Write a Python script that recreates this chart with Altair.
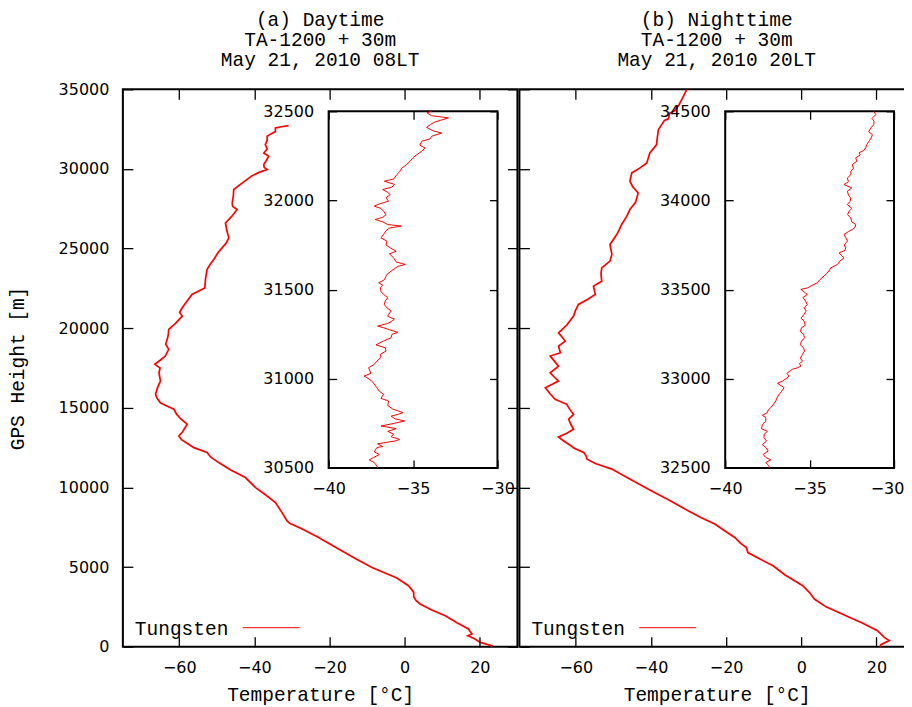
import altair as alt
import pandas as pd

# ---------------- data ----------------
day_height = [0, 60, 270, 500, 690, 800, 950, 1110, 1500, 1940, 2300, 2680, 2900, 3140, 3410, 3600,
              3830, 4310, 4600, 4970, 5500, 6130, 6860, 7400, 7750, 7900, 8400, 9050, 9600, 9990,
              10620, 11100, 11560, 11900, 12190, 12500, 12710, 13000, 13230, 13500, 13970, 14300,
              14600, 14910, 15150, 15320, 15600, 15850, 16250, 16680, 16950, 17200, 17500, 17730,
              18000, 18250, 18670, 19000, 19300, 19600, 19920, 20300, 20760, 21000, 21280, 21700,
              22120, 22530, 23100, 23680, 24000, 24310, 24700, 25040, 25350, 25670, 26100, 26610,
              27000, 27450, 27650, 27870, 28300, 28710, 29000, 29300, 29580, 29800, 29960, 30100,
              30280, 30500, 30800, 31000, 31250, 31530, 31800, 32050, 32200, 32350, 32570, 32650, 32720]
day_temp = [23.0, 23.2, 20.1, 18.6, 16.8, 17.9, 17.4, 17.0, 13.9, 10.8, 7.2, 4.1, 3.0, 2.4, 2.4, 1.8,
            1.0, -2.1, -4.9, -8.7, -12.9, -17.6, -22.9, -27.4, -30.6, -31.3, -32.6, -34.4, -37.4, -39.7,
            -42.4, -46.3, -49.5, -51.6, -52.6, -56.1, -57.5, -59.4, -60.1, -59.1, -57.9, -59.6,
            -60.7, -61.4, -63.6, -65.0, -65.9, -66.3, -65.8, -65.0, -65.2, -65.4, -65.1, -66.5,
            -65.0, -63.7, -62.8, -63.6, -63.2, -62.9, -62.8, -61.0, -59.2, -59.9, -59.2, -57.9,
            -56.6, -53.2, -53.0, -52.6, -51.8, -50.8, -49.8, -48.6, -47.5, -46.8, -47.3, -47.7,
            -46.1, -44.6, -45.8, -45.9, -45.6, -45.5, -43.9, -42.2, -40.6, -38.6, -36.6, -37.4,
            -37.5, -36.9, -36.2, -37.5, -36.6, -37.1, -36.6, -36.6, -35.6, -34.4, -34.4, -32.8, -30.9]

night_height = [0, 130, 380, 580, 1000, 1500, 1940, 2500, 2990, 3400, 3830, 4500, 5080, 5500, 5910,
                6230, 6500, 6860, 7300, 7700, 8100, 8530, 9200, 9780, 10500, 11150, 11500, 11770,
                12000, 12190, 12450, 12710, 12950, 13170, 13400, 13650, 13950, 14280, 14590, 14900,
                15220, 15540, 15900, 16260, 16680, 16950, 17200, 17620, 17900, 18250, 18460, 18880,
                19190, 19710, 20200, 20760, 21100, 21490, 21800, 22120, 22640, 22950, 23400, 23790,
                24210, 24630, 25260, 25880, 26200, 26510, 27000, 27450, 27900, 28490, 28900, 29230,
                29750, 30050, 30370, 31000, 31530, 32000, 32470, 32800, 33050, 33150, 33500, 33650,
                34000, 34450, 34980]
night_temp = [21.0, 21.2, 23.4, 22.1, 20.3, 16.1, 11.9, 6.6, 3.5, 2.2, 0.4, -4.3, -7.5, -11.0, -14.2,
              -14.6, -16.2, -17.7, -20.5, -23.0, -26.6, -30.1, -35.1, -39.8, -45.4, -50.4, -54.8, -57.0,
              -57.3, -57.9, -60.3, -61.9, -63.4, -64.6, -62.4, -60.6, -61.3, -61.9, -60.6, -61.6,
              -62.4, -65.5, -66.9, -68.1, -64.6, -65.8, -66.8, -64.6, -65.6, -66.8, -64.1, -64.6,
              -62.8, -64.6, -62.4, -60.6, -60.1, -59.3, -56.9, -54.8, -55.3, -53.1, -53.3, -53.1,
              -50.9, -50.4, -50.9, -49.1, -48.4, -47.8, -46.5, -45.6, -44.1, -43.4, -44.9, -45.6,
              -45.1, -43.0, -41.1, -40.3, -38.5, -38.3, -38.0, -37.1, -36.4, -35.4, -35.0, -33.7,
              -32.6, -31.6, -30.5]

day_zoom_height = [30500, 30511, 30530, 30545, 30558, 30575, 30590, 30614, 30620, 30635, 30651, 30660,
                   30675, 30689, 30705, 30720, 30735, 30750, 30763, 30775, 30790, 30801, 30810, 30830,
                   30850, 30875, 30890, 30913, 30930, 30950, 30970, 30987, 31006, 31015, 31030, 31062,
                   31080, 31099, 31120, 31137, 31155, 31174, 31190, 31211, 31230, 31249, 31260, 31275,
                   31286, 31295, 31310, 31323, 31335, 31350, 31361, 31380, 31398, 31415, 31436, 31455,
                   31473, 31490, 31510, 31525, 31538, 31555, 31585, 31610, 31630, 31641, 31655, 31678,
                   31700, 31715, 31734, 31750, 31772, 31790, 31809, 31830, 31845, 31856, 31865, 31880,
                   31893, 31905, 31920, 31940, 31955, 31968, 31980, 31996, 32015, 32033, 32045, 32061,
                   32075, 32090, 32108, 32120, 32145, 32160, 32182, 32200, 32220, 32240, 32257, 32275,
                   32294, 32310, 32332, 32345, 32360, 32378, 32390, 32410, 32425, 32440, 32463, 32475,
                   32491, 32500]
day_zoom_temp = [-37.1, -37.14, -37.3, -37.6, -37.34, -37.0, -37.3, -37.14, -36.8, -37.1, -36.06, -35.8,
                 -36.3, -36.15, -36.5, -36.0, -36.9, -36.1, -35.5, -36.06, -36.3, -35.86, -35.6, -36.2,
                 -36.5, -36.45, -36.9, -36.75, -37.0, -37.14, -37.3, -37.44, -37.73, -37.9, -37.5, -37.63,
                 -37.3, -37.14, -36.9, -36.94, -36.6, -36.65, -37.2, -36.75, -36.3, -36.25, -35.9, -36.4,
                 -36.75, -37.1, -36.5, -36.25, -36.1, -36.5, -36.45, -36.3, -36.55, -36.7, -36.65, -36.5,
                 -36.75, -36.9, -36.94, -36.8, -37.04, -36.7, -36.55, -36.2, -35.9, -35.46, -36.0, -36.15,
                 -36.4, -36.0, -36.35, -36.6, -36.55, -36.9, -36.75, -36.6, -36.4, -35.7, -36.5, -36.8,
                 -37.24, -36.8, -36.6, -36.75, -36.9, -37.3, -37.0, -36.45, -36.6, -36.35, -36.5, -36.8,
                 -36.25, -36.1, -36.7, -36.15, -35.96, -35.8, -35.66, -35.4, -35.17, -35.0, -34.77, -34.5,
                 -34.28, -34.6, -34.48, -34.0, -33.89, -33.3, -33.8, -34.2, -33.98, -33.7, -32.9, -33.9,
                 -34.18, -33.9]

night_zoom_height = [32500, 32511, 32530, 32545, 32558, 32575, 32595, 32614, 32630, 32650, 32670, 32689,
                     32705, 32720, 32745, 32760, 32782, 32795, 32810, 32825, 32838, 32855, 32875, 32890,
                     32913, 32930, 32950, 32965, 32975, 32987, 33000, 33015, 33030, 33053, 33062, 33071,
                     33085, 33099, 33115, 33137, 33155, 33174, 33190, 33211, 33230, 33249, 33265, 33286,
                     33300, 33323, 33340, 33361, 33380, 33398, 33415, 33436, 33455, 33473, 33485, 33501,
                     33510, 33520, 33538, 33555, 33576, 33590, 33604, 33622, 33641, 33660, 33678, 33690,
                     33706, 33720, 33734, 33750, 33772, 33790, 33809, 33825, 33837, 33850, 33865, 33880,
                     33902, 33920, 33940, 33955, 33977, 33995, 34014, 34030, 34052, 34070, 34089, 34105,
                     34126, 34145, 34164, 34180, 34201, 34220, 34239, 34255, 34267, 34280, 34294, 34315,
                     34332, 34350, 34369, 34385, 34406, 34425, 34444, 34460, 34481, 34500]
night_zoom_temp = [-37.4, -37.4, -37.6, -37.3, -37.59, -37.75, -37.45, -37.59, -37.8, -37.55, -37.7, -37.69,
                   -37.5, -37.85, -37.79, -37.6, -37.59, -37.8, -37.5, -37.45, -37.3, -37.15, -37.0, -36.95,
                   -36.8, -36.65, -36.51, -36.75, -36.9, -36.61, -36.4, -36.21, -36.35, -36.02, -35.7, -35.52,
                   -35.6, -35.42, -35.55, -35.42, -35.3, -35.36, -35.55, -35.48, -35.3, -35.36, -35.55, -35.48,
                   -35.25, -35.33, -35.5, -35.33, -35.2, -35.33, -35.15, -35.23, -35.4, -35.13, -35.3, -35.52,
                   -35.1, -34.93, -34.54, -34.4, -34.14, -34.0, -33.85, -33.75, -33.35, -33.2, -32.96, -33.1,
                   -33.25, -32.9, -32.86, -32.95, -32.76, -32.85, -32.96, -32.7, -32.47, -32.3, -32.27, -32.5,
                   -32.56, -32.75, -32.66, -32.5, -32.76, -32.6, -32.56, -32.7, -32.76, -32.5, -32.96, -32.7,
                   -32.76, -32.55, -32.56, -32.4, -32.47, -32.2, -32.27, -32.0, -32.07, -31.8, -31.68, -31.6,
                   -31.48, -31.35, -31.28, -31.5, -31.38, -31.2, -31.18, -31.3, -31.08, -31.2]

day_title = ["(a) Daytime", "TA-1200 + 30m", "May 21, 2010 08LT"]
night_title = ["(b) Nighttime", "TA-1200 + 30m", "May 21, 2010 20LT"]
legend_label = ["Tungsten"]
x_title = "Temperature [°C]"
y_title = "GPS Height [m]"

main_x_domain = [-75, 30]
main_y_domain = [0, 35000]
main_x_ticks = [-60, -40, -20, 0, 20]
main_y_ticks = [0, 5000, 10000, 15000, 20000, 25000, 30000, 35000]
zoom_x_domain = [-40, -30]
zoom_x_ticks = [-40, -35, -30]
day_zoom_y_domain = [30500, 32500]
day_zoom_y_ticks = [30500, 31000, 31500, 32000, 32500]
night_zoom_y_domain = [32500, 34500]
night_zoom_y_ticks = [32500, 33000, 33500, 34000, 34500]

# ---------------- layout / style ----------------
W, H = 395, 558
TK = 10          # main tick length (inward)
ITK = 8          # inset tick length (inward)
IN_L, IN_R, IN_T, IN_B = 206, 375, 22, 379   # inset rectangle inside a panel (px)
MONO = "Liberation Mono"
SANS = "DejaVu Sans"
TXT = 19.5
LBL = 16


def ax(orient, values, offset, tick, labels=True, pad=13, **kw):
    return alt.Axis(orient=orient, values=values, offset=offset, tickSize=tick, domain=False,
                    grid=False, labels=labels, ticks=True, tickColor="black", tickWidth=1.3,
                    labelFont=SANS, labelFontSize=LBL, labelColor="black", labelPadding=pad,
                    labelFlush=False, labelOverlap=False, format="d", minExtent=0, zindex=1, **kw)


def panel(main_h, main_t, zoom_h, zoom_t, zoom_ydom, zoom_yticks, title_lines, first):
    mdf = pd.DataFrame({"h": main_h, "t": main_t})
    zdf = pd.DataFrame({"h": zoom_h, "t": zoom_t})
    fdf = pd.DataFrame({"x": [zoom_x_domain[0]], "x2": [zoom_x_domain[1]],
                        "y": [zoom_ydom[0]], "y2": [zoom_ydom[1]]})
    ldf = pd.DataFrame({"label": legend_label})
    tdf = pd.DataFrame({"title": ["\n".join(title_lines)]})

    xs = alt.Scale(domain=main_x_domain, nice=False, zero=False)
    ys = alt.Scale(domain=main_y_domain, nice=False, zero=False)
    ixs = alt.Scale(domain=zoom_x_domain, range=[IN_L, IN_R], nice=False, zero=False)
    iys = alt.Scale(domain=zoom_ydom, range=[IN_B, IN_T], nice=False, zero=False)

    bottom_axis = ax("bottom", main_x_ticks, -TK, TK, pad=13, title=x_title, titleFont=MONO,
                     titleFontSize=TXT, titleFontWeight="normal", titleColor="black",
                     titleBaseline="alphabetic", titleY=64)
    if first:
        left_axis = ax("left", main_y_ticks, -TK, TK, pad=14, title=y_title, titleFont=MONO,
                       titleFontSize=TXT, titleFontWeight="normal", titleColor="black",
                       titleBaseline="alphabetic", titleAngle=270, titleAlign="center",
                       titleX=-109, titleY=H / 2)
        inset_x_axis = ax("bottom", zoom_x_ticks, -(H - IN_B + ITK), ITK, pad=13, title=None)
    else:
        left_axis = ax("left", main_y_ticks, -TK, TK, labels=False, title=None)
        # the right-most inset label sits at the page edge: nudge it inside the picture
        inset_x_axis = ax("bottom", zoom_x_ticks, -(H - IN_B + ITK), ITK, pad=13, title=None,
                          labelOffset={"condition": {"test": "datum.value == -30", "value": -7},
                                       "value": 0})

    line = alt.Chart(mdf).mark_line(color="#ff0000", strokeWidth=1.7).encode(
        x=alt.X("t:Q", scale=xs, axis=bottom_axis),
        y=alt.Y("h:Q", scale=ys, axis=left_axis),
        order=alt.Order("h:Q"),
    )
    mirror = alt.Chart(mdf).mark_line(strokeOpacity=0).encode(
        x=alt.X("t:Q", scale=xs, axis=ax("top", main_x_ticks, -TK, TK, labels=False, title=None)),
        y=alt.Y("h:Q", scale=ys, axis=ax("right", main_y_ticks, -TK, TK, labels=False, title=None)),
        order=alt.Order("h:Q"),
    )
    main = alt.layer(line, mirror).resolve_axis(x="independent", y="independent")

    frame = alt.Chart(fdf).mark_rect(fill="white", stroke="black", strokeWidth=2).encode(
        x=alt.X("x:Q", scale=ixs, axis=inset_x_axis),
        x2="x2:Q",
        y=alt.Y("y:Q", scale=iys,
                axis=ax("left", zoom_yticks, -(IN_L + ITK), ITK, pad=15, title=None)),
        y2="y2:Q",
    )
    zline = alt.Chart(zdf).mark_line(color="#ff0000", strokeWidth=1).encode(
        x=alt.X("t:Q", scale=ixs,
                axis=ax("top", zoom_x_ticks, -(IN_T + ITK), ITK, labels=False, title=None)),
        y=alt.Y("h:Q", scale=iys,
                axis=ax("right", zoom_yticks, -(W - IN_R + ITK), ITK, labels=False, title=None)),
        order=alt.Order("h:Q"),
    )

    leg_text = alt.Chart(ldf).mark_text(align="left", baseline="alphabetic", font=MONO,
                                        fontSize=TXT, color="black").encode(
        text="label:N", x=alt.value(12), y=alt.value(546))
    leg_line = alt.Chart(ldf).mark_rule(color="#ff0000", strokeWidth=1).encode(
        x=alt.value(120), x2=alt.value(177), y=alt.value(539))

    title = alt.Chart(tdf).mark_text(align="center", baseline="alphabetic", font=MONO,
                                     fontSize=TXT, color="black", lineBreak="\n",
                                     lineHeight=20).encode(
        text="title:N", x=alt.value(W / 2), y=alt.value(-63.5))

    return alt.layer(main, frame, zline, leg_text, leg_line, title).resolve_scale(
        x="independent", y="independent").properties(width=W, height=H)


left = panel(day_height, day_temp, day_zoom_height, day_zoom_temp,
             day_zoom_y_domain, day_zoom_y_ticks, day_title, True)
right = panel(night_height, night_temp, night_zoom_height, night_zoom_temp,
              night_zoom_y_domain, night_zoom_y_ticks, night_title, False)

chart = alt.hconcat(left, right, spacing=-2).properties(
    padding={"left": -1, "top": 0, "right": -12, "bottom": 8}, background="white"
).configure_view(stroke="black", strokeWidth=2)

chart.save("out.html", embed_options={"renderer": "svg", "actions": False})
